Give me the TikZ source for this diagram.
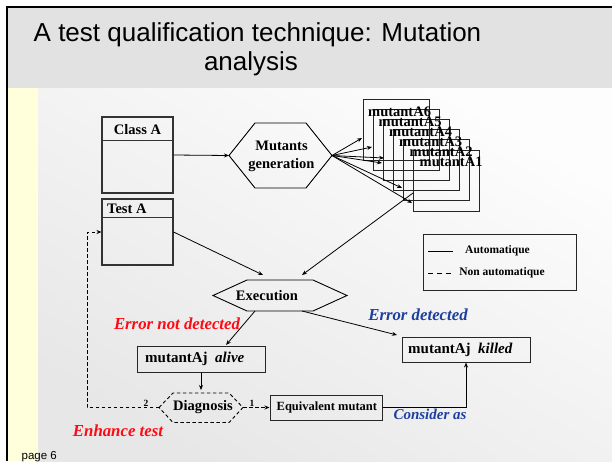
\documentclass[tikz,border=0pt]{standalone}
\usepackage{fontspec}
\setmainfont{Liberation Serif}
\newfontfamily\sansfont{Liberation Sans}
\usetikzlibrary{arrows.meta,calc}

\definecolor{bandgray}{HTML}{E2E2E2}
\definecolor{bgtop}{HTML}{E7E7E7}
\definecolor{bgbot}{HTML}{FDFDFD}
\definecolor{stripyellow}{HTML}{FFFFDC}
\definecolor{errred}{HTML}{FF0A14}
\definecolor{okblue}{HTML}{1E3F9E}

\tikzset{
  umlbox/.style={draw=black!80, line width=1.1pt, inner sep=0pt},
  plainbox/.style={draw=black!85, line width=1pt, inner sep=0pt},
  hexline/.style={draw=black, line width=0.9pt, line join=miter},
  link/.style={draw=black, line width=0.8pt, -{Stealth[length=5pt,width=4pt]}},
  manual/.style={link, dash pattern=on 3.5pt off 2.5pt},
  lbl/.style={font=\bfseries\fontsize{14.5}{18}\selectfont, inner sep=0pt},
  small/.style={font=\bfseries\fontsize{11.5}{13}\selectfont, inner sep=0pt},
  tiny/.style={font=\bfseries\fontsize{9.5}{11}\selectfont, inner sep=0pt},
  note/.style={font=\bfseries\itshape\fontsize{16.8}{19}\selectfont, inner sep=0pt},
  mutbox/.style={draw=black!85, line width=1pt, minimum width=66pt, minimum height=61pt, inner sep=0pt},
}

\begin{document}
\begin{tikzpicture}[x=1pt,y=-1pt]
\clip (0,0) rectangle (612,461);
\fill[white] (0,0) rectangle (612,461);

% slide background (y axis points down, so the shading is given mirrored)
\fill[bandgray] (8,8) rectangle (612,88);
\shade[top color=bgbot, bottom color=bgtop, shading angle=-30] (38,88) rectangle (612,461);
\fill[stripyellow] (8,88) rectangle (38,461);
\draw[line width=2pt] (7,461) -- (7,7) -- (612,7);

% title
\node[font=\sansfont\fontsize{26}{30}\selectfont, anchor=base, inner sep=0pt] (title1) at (257.5,41) {A test qualification technique: Mutation};
\node[font=\sansfont\fontsize{26}{30}\selectfont, anchor=base, inner sep=0pt] (title2) at (251,70) {analysis};

% class and test boxes
\node[umlbox, minimum width=71pt, minimum height=76pt] (classA) at (137.5,155) {};
\draw[umlbox] ($(classA.north west)+(0,24)$) -- ($(classA.north east)+(0,24)$);
\node[lbl] (classAname) at (137.5,130) {Class A};

\node[umlbox, minimum width=71pt, minimum height=66pt] (testA) at (137.5,232) {};
\draw[umlbox] ($(testA.north west)+(0,19)$) -- ($(testA.north east)+(0,19)$);
\node[lbl, anchor=west] (testAname) at (107,209) {Test A};

% mutants generation
\draw[hexline] (229,155.5) coordinate (mgW) -- (255,123) -- (306,123) -- (332,155.5) coordinate (mgE) -- (306,188) -- (255,188) -- cycle;
\node[lbl, align=center] (mgtext) at (281.5,156) {Mutants\\generation};

% stack of mutants
\node[mutbox] (m6) at (396,129.5) {};
\node[mutbox] (m5) at (406,139.7) {};
\node[mutbox] (m4) at (416,149.9) {};
\node[mutbox] (m3) at (426,160.1) {};
\node[mutbox] (m2) at (436,170.3) {};
\node[mutbox] (m1) at (446,180.5) {};
\node[lbl, anchor=west] (m6t) at (368,112) {mutantA6};
\node[lbl, anchor=west] (m5t) at (378.5,122) {mutantA5};
\node[lbl, anchor=west] (m4t) at (389,132) {mutantA4};
\node[lbl, anchor=west] (m3t) at (399,142) {mutantA3};
\node[lbl, anchor=west] (m2t) at (409.5,152) {mutantA2};
\node[lbl, anchor=west] (m1t) at (419.5,162) {mutantA1};

\coordinate (in6) at (362,138);
\coordinate (in5) at (372,147);
\coordinate (in4) at (384,158);
\coordinate (in3) at (382,163);
\coordinate (in2) at (402,188);
\coordinate (in1) at (412,203);
\foreach \t in {in6,in5,in4,in3,in2,in1}
  \draw[link] (mgE) -- (\t);
\draw[link] (classA.east) -- (mgW);

% execution
\draw[hexline] (213,295.5) coordinate (exW) -- (247,280) -- (313,280) -- (347,295.5) coordinate (exE) -- (313,311) -- (247,311) -- cycle;
\node[lbl] (extext) at (267,296) {Execution};
\coordinate (exIn1) at (263,275);
\coordinate (exIn2) at (302,275);
\coordinate (exOut1) at (255,311);
\coordinate (exOut2) at (302,311);
\coordinate (m1out) at (413,193);
\draw[link] (testA.east) -- (exIn1);
\draw[link] (m1out) -- (exIn2);

% verdict boxes
\node[plainbox, minimum width=128pt, minimum height=26pt] (alive) at (201,359) {};
\node[lbl, anchor=west, font=\bfseries\fontsize{15}{18}\selectfont] (alivetext) at (145,359) {mutantAj\ \ \textit{alive}};
\node[plainbox, minimum width=128pt, minimum height=25pt] (killed) at (466,349.5) {};
\node[lbl, anchor=west, font=\bfseries\fontsize{15}{18}\selectfont] (killedtext) at (408,349.5) {mutantAj\ \ \textit{killed}};
\coordinate (aliveIn) at (226,345);
\coordinate (killedIn) at (397,335);
\draw[link] (exOut1) -- (aliveIn);
\draw[link] (exOut2) -- (killedIn);
\node[note, text=errred] (notdet) at (177,324) {Error not detected};
\node[note, text=okblue] (det) at (418,315) {Error detected};

% diagnosis
\draw[hexline, dash pattern=on 3.5pt off 2.5pt] (159,407.5) coordinate (diagW) -- (173,393) -- (229,393) -- (243,407.5) coordinate (diagE) -- (229,422.5) -- (173,422.5) -- cycle;
\node[lbl] (diagtext) at (203,407.5) {Diagnosis};
\coordinate (diagN) at (201,390);
\draw[link] (alive.south) -- (diagN);

\node[plainbox, minimum width=112pt, minimum height=25pt] (equiv) at (326,407.5) {};
\node[lbl, anchor=west, font=\bfseries\fontsize{12.5}{15}\selectfont] (equivtext) at (276.5,407.5) {Equivalent mutant};
\draw[manual] (diagE) -- (equiv.west);
\node[tiny] (one) at (252,403) {1};
\draw[link] (equiv.east) -| (killed.south);
\node[note, text=okblue, font=\bfseries\itshape\fontsize{15}{18}\selectfont] (consider) at (430,414) {Consider as};

\coordinate (fbCorner) at (87,407.5);
\draw[manual] (diagW) -- (fbCorner) |- (testA.west);
\node[tiny] (two) at (146,403) {2};
\node[note, text=errred] (enhance) at (118,431) {Enhance test};

% legend
\node[plainbox, minimum width=153pt, minimum height=56pt] (legend) at (499.5,262) {};
\coordinate (lgA1) at (428,251);
\coordinate (lgA2) at (453,251);
\coordinate (lgB1) at (428,273);
\coordinate (lgB2) at (453,273);
\draw[line width=0.9pt] (lgA1) -- (lgA2);
\draw[line width=0.9pt, dash pattern=on 5pt off 4pt] (lgB1) -- (lgB2);
\node[small] (lgAuto) at (497.5,251) {Automatique};
\node[small] (lgManual) at (502,273) {Non automatique};

% footer
\node[font=\sansfont\fontsize{11.5}{13}\selectfont, anchor=base west, inner sep=0pt] (page) at (21.5,459.5) {page 6};
\end{tikzpicture}
\end{document}
